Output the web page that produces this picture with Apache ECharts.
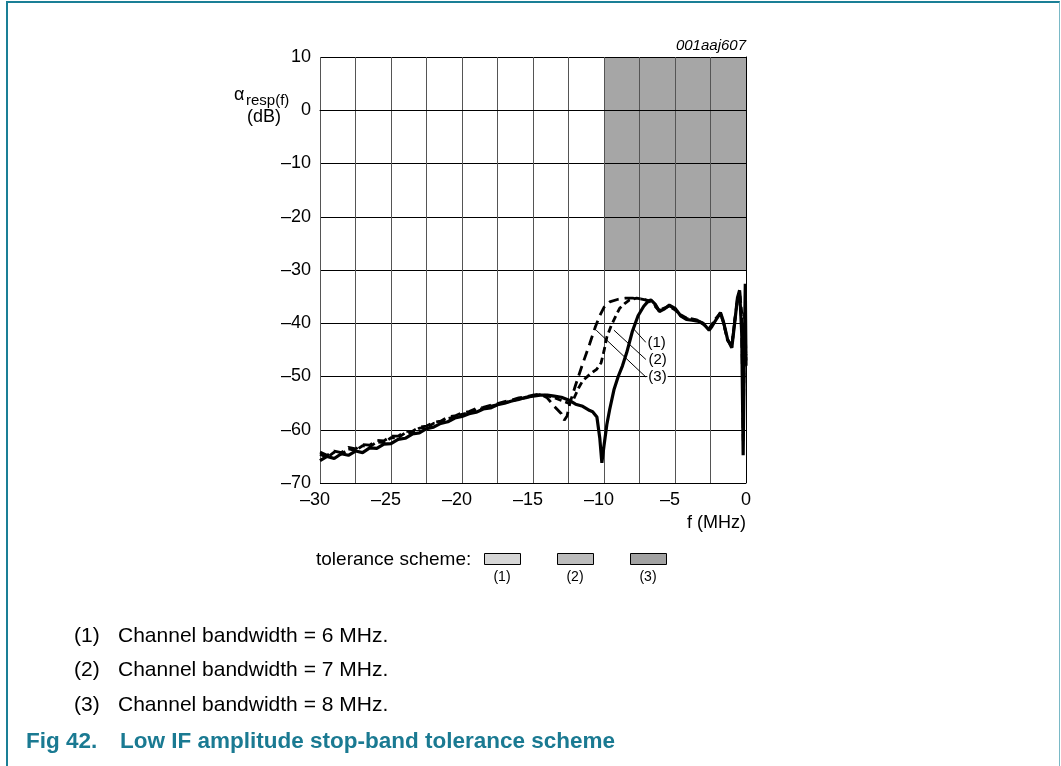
<!DOCTYPE html>
<html>
<head>
<meta charset="utf-8">
<script src="https://cdn.jsdelivr.net/npm/echarts@6/dist/echarts.min.js"></script>
<style>
  html, body { margin: 0; padding: 0; background: #fff; overflow: hidden; }
  #frame { position: absolute; left: 6px; top: 1px; width: 1051px; height: 800px;
    border-left: 2px solid #1a7f96; border-top: 2px solid #1a7f96; border-right: 1px solid #7ab9c6; }
  #chart { position: absolute; left: 0; top: 0; width: 1061px; height: 766px; }
</style>
</head>
<body>
<div id="frame"></div>
<div id="chart"></div>
<script>
// frequency grid for the rising part (all three traces share it)
const fLow = [-30, -29.5, -29, -28.5, -28, -27.5, -27, -26.5, -26, -25.5, -25, -24.5, -24, -23.5, -23, -22.5,
  -22, -21.5, -21, -20.5, -20, -19.5, -19, -18.5, -18, -17.5, -17, -16.5, -16, -15.5, -15, -14.5]

// (1) solid
const r1Low = [-65.8, -65.0, -65.4, -64.5, -64.8, -64.0, -64.3, -63.4, -63.5, -62.7, -62.6, -61.8, -61.6, -60.8, -60.6, -59.8,
  -59.5, -58.8, -58.5, -57.8, -57.5, -57.0, -56.7, -56.1, -55.9, -55.3, -55.0, -54.6, -54.3, -53.9, -53.7, -53.5]
const f1High = [-14, -13.5, -13, -12.5, -12, -11.5, -11, -10.8, -10.5, -10.3, -10.15, -10, -9.8, -9.6, -9.3, -9,
  -8.7, -8.4, -8, -7.6, -7.2, -6.9, -6.7, -6.4, -6.1, -5.8, -5.4, -5, -4.6, -4.2, -3.8, -3.4,
  -3, -2.6, -2.4, -2.1, -1.8, -1.6, -1.3, -1, -0.8, -0.6, -0.45, -0.3, -0.2, -0.12, -0.05, 0]
const r1High = [-53.5, -53.7, -53.9, -54.4, -55.2, -55.6, -56.4, -56.6, -57.6, -61.5, -66.2, -63, -59, -56.2, -52.5, -50,
  -48, -45.5, -41.5, -38.6, -36.8, -35.9, -35.6, -36.4, -37.8, -37.4, -36.6, -37.2, -38.6, -39.3, -39.4, -39.6,
  -40.1, -41.3, -40.6, -39.3, -38, -39.6, -43, -44.6, -40, -35.2, -33.8, -42, -64.8, -46, -32.6, -48]

// (2) short dashes
const r2Low = [-64.6, -65.2, -64.2, -64.6, -63.6, -63.9, -63.0, -63.2, -62.3, -62.4, -61.5, -61.5, -60.6, -60.6, -59.7, -59.6,
  -58.8, -58.6, -57.9, -57.6, -57.1, -56.8, -56.3, -56.0, -55.6, -55.3, -54.9, -54.6, -54.2, -54.0, -53.6, -53.4]
const f2High = [-14, -13.5, -13, -12.5, -12.2, -11.8, -11.5, -11, -10.5, -10.2, -10, -9.8, -9.5, -9.2, -8.9, -8.5,
  -8.2, -7.7, -7.2, -6.8, -6.4, -6.1, -5.8, -5.4, -5, -4.6, -4.2, -3.8, -3.4, -3, -2.6, -2.4,
  -2.1, -1.8, -1.6, -1.3, -1, -0.8, -0.6, -0.45, -0.3, -0.2, -0.1, 0]
const r2High = [-53.6, -54.0, -54.5, -55.0, -54.6, -52.2, -50.8, -49.6, -48.6, -47.4, -45.2, -42.6, -40.5, -38.8, -37.2, -36.2,
  -35.6, -35.3, -35.5, -35.8, -36.6, -37.6, -37.2, -36.8, -37.5, -38.4, -39.0, -39.2, -39.4, -40.2, -41.0, -40.2,
  -39.0, -38.2, -39.8, -43.2, -44.2, -39.6, -35.5, -34.2, -38, -58, -40, -47]

// (3) long dashes
const r3Low = [-64.2, -64.8, -64.0, -64.3, -63.3, -63.6, -62.8, -62.9, -62.0, -62.1, -61.2, -61.2, -60.3, -60.3, -59.5, -59.3,
  -58.6, -58.4, -57.6, -57.4, -56.8, -56.6, -56.0, -55.8, -55.4, -55.1, -54.7, -54.4, -54.0, -53.8, -53.5, -53.3]
const f3High = [-14, -13.5, -13, -12.8, -12.6, -12.4, -12, -11.5, -11, -10.6, -10.3, -10, -9.6, -9, -8.5, -8,
  -7.5, -7.1, -6.8, -6.4, -6.1, -5.8, -5.4, -5, -4.6, -4.2, -3.8, -3.4, -3, -2.6, -2.4, -2.1,
  -1.8, -1.6, -1.3, -1, -0.8, -0.6, -0.45, -0.3, -0.2, -0.1, 0]
const r3High = [-54.0, -55.6, -57.0, -58.2, -57.4, -55.0, -51.6, -47.6, -43.8, -40.6, -38.6, -37.0, -36.0, -35.5, -35.3, -35.3,
  -35.4, -35.6, -36.0, -36.8, -37.7, -37.2, -36.7, -37.4, -38.6, -39.1, -39.3, -39.5, -40.0, -41.1, -40.4, -39.2,
  -38.1, -39.6, -43.1, -44.4, -39.8, -35.4, -34.0, -40, -62, -38, -46]

// tolerance mask (stop band)
const maskF = [-10, 0]
const maskDb = [-30, 10]

// axis labels
const xLabels = [-30, -25, -20, -15, -10, -5, 0]
const curveNames = ['(1)', '(2)', '(3)']
// leader lines: point on curve -> label anchor
const leaderFrom = [[-7.9, -41.1], [-9.3, -41.3], [-10.55, -41.3]]
const leaderTo = [[-7.05, -43.6], [-7.05, -46.8], [-7.05, -50.1]]

const footnotes = ['Channel bandwidth = 6 MHz.', 'Channel bandwidth = 7 MHz.', 'Channel bandwidth = 8 MHz.']
const schemeColors = ['#d6d6d6', '#bcbcbc', '#a2a2a2']

const FONT = '"Liberation Sans", Arial, sans-serif'
const dash = v => (v < 0 ? '\u2013' + (-v) : String(v))
const pairs = (xs, ys) => xs.map((x, i) => [x, ys[i]])

const chart = echarts.init(document.getElementById('chart'))

const graphic = [
  { type: 'text', x: 746, y: 46, style: { text: '001aaj607', font: 'italic 15px ' + FONT, fill: '#000', align: 'right', verticalAlign: 'middle' } },
  { type: 'text', x: 234, y: 95, style: { text: '\u03b1', font: '18px ' + FONT, fill: '#000', verticalAlign: 'middle' } },
  { type: 'text', x: 246, y: 101, style: { text: 'resp(f)', font: '15px ' + FONT, fill: '#000', verticalAlign: 'middle' } },
  { type: 'text', x: 264, y: 117, style: { text: '(dB)', font: '18px ' + FONT, fill: '#000', align: 'center', verticalAlign: 'middle' } },
  { type: 'text', x: 746, y: 523, style: { text: 'f (MHz)', font: '18px ' + FONT, fill: '#000', align: 'right', verticalAlign: 'middle' } },
  { type: 'text', x: 316, y: 560, style: { text: 'tolerance scheme:', font: '19px ' + FONT, fill: '#000', verticalAlign: 'middle' } }
]
schemeColors.forEach((c, i) => {
  const x0 = 484 + i * 73
  graphic.push({ type: 'rect', shape: { x: x0 + 0.5, y: 553.5, width: 36, height: 11 }, style: { fill: c, stroke: '#000', lineWidth: 1 } })
  graphic.push({ type: 'text', x: x0 + 18, y: 577, style: { text: curveNames[i], font: '14px ' + FONT, fill: '#000', align: 'center', verticalAlign: 'middle' } })
})
footnotes.forEach((t, i) => {
  const y = 636 + i * 34.5
  graphic.push({ type: 'text', x: 74, y: y, style: { text: curveNames[i], font: '21px ' + FONT, fill: '#000', verticalAlign: 'middle' } })
  graphic.push({ type: 'text', x: 118, y: y, style: { text: t, font: '21px ' + FONT, fill: '#000', verticalAlign: 'middle' } })
})
graphic.push({ type: 'text', x: 26, y: 742, style: { text: 'Fig 42.', font: 'bold 22.5px ' + FONT, fill: '#1a7a92', verticalAlign: 'middle' } })
graphic.push({ type: 'text', x: 120, y: 742, style: { text: 'Low IF amplitude stop-band tolerance scheme', font: 'bold 22.5px ' + FONT, fill: '#1a7a92', verticalAlign: 'middle' } })

const lineBase = {
  type: 'line',
  symbol: 'none',
  z: 4,
  animation: false,
  silent: true
}

chart.setOption({
  animation: false,
  textStyle: { fontFamily: FONT },
  grid: { left: 320, right: 315, top: 57, bottom: 283 },
  xAxis: {
    type: 'value',
    min: -30,
    max: 0,
    interval: 2.5,
    z: 3,
    axisLine: { show: true, lineStyle: { color: '#000', width: 1 } },
    axisTick: { show: false },
    axisLabel: {
      margin: 8,
      fontSize: 18,
      color: '#000',
      // digits centred on the tick, the minus sign hangs to the left
      formatter: v => {
        if (xLabels.indexOf(v) < 0) return ''
        return v < 0 ? '{neg|' + dash(v) + '}' : '{pos|' + v + '}'
      },
      rich: {
        neg: { fontSize: 18, color: '#000', padding: [0, 10, 0, 0] },
        pos: { fontSize: 18, color: '#000' }
      }
    },
    splitLine: { show: true, lineStyle: { color: '#555', width: 1 } }
  },
  yAxis: {
    type: 'value',
    min: -70,
    max: 10,
    interval: 10,
    z: 3,
    axisLine: { show: true, lineStyle: { color: '#000', width: 1 } },
    axisTick: { show: false },
    axisLabel: { margin: 9, fontSize: 18, color: '#000', formatter: dash },
    splitLine: { show: true, lineStyle: { color: '#000', width: 1 } }
  },
  graphic: graphic,
  series: [
    {
      type: 'line',
      data: [],
      silent: true,
      markArea: {
        silent: true,
        itemStyle: { color: '#a6a6a6' },
        data: [[{ coord: [maskF[0], maskDb[1]] }, { coord: [maskF[1], maskDb[0]] }]]
      }
    },
    Object.assign({}, lineBase, {
      name: '(3)',
      data: pairs(fLow.concat(f3High), r3Low.concat(r3High)),
      lineStyle: { color: '#000', width: 2.8, type: [10, 6] }
    }),
    Object.assign({}, lineBase, {
      name: '(2)',
      data: pairs(fLow.concat(f2High), r2Low.concat(r2High)),
      lineStyle: { color: '#000', width: 2.8, type: [7, 4] }
    }),
    Object.assign({}, lineBase, {
      name: '(1)',
      data: pairs(fLow.concat(f1High), r1Low.concat(r1High)),
      lineStyle: { color: '#000', width: 3.2 },
      markLine: {
        silent: true,
        animation: false,
        symbol: ['none', 'none'],
        lineStyle: { color: '#000', width: 1, type: 'solid' },
        data: curveNames.map((n, i) => [
          { coord: leaderFrom[i], label: { show: true, formatter: n, position: 'end', distance: [16, 0], fontSize: 15, color: '#000', backgroundColor: '#fff', padding: [0, 1] } },
          { coord: leaderTo[i] }
        ])
      }
    })
  ]
})
</script>
</body>
</html>
